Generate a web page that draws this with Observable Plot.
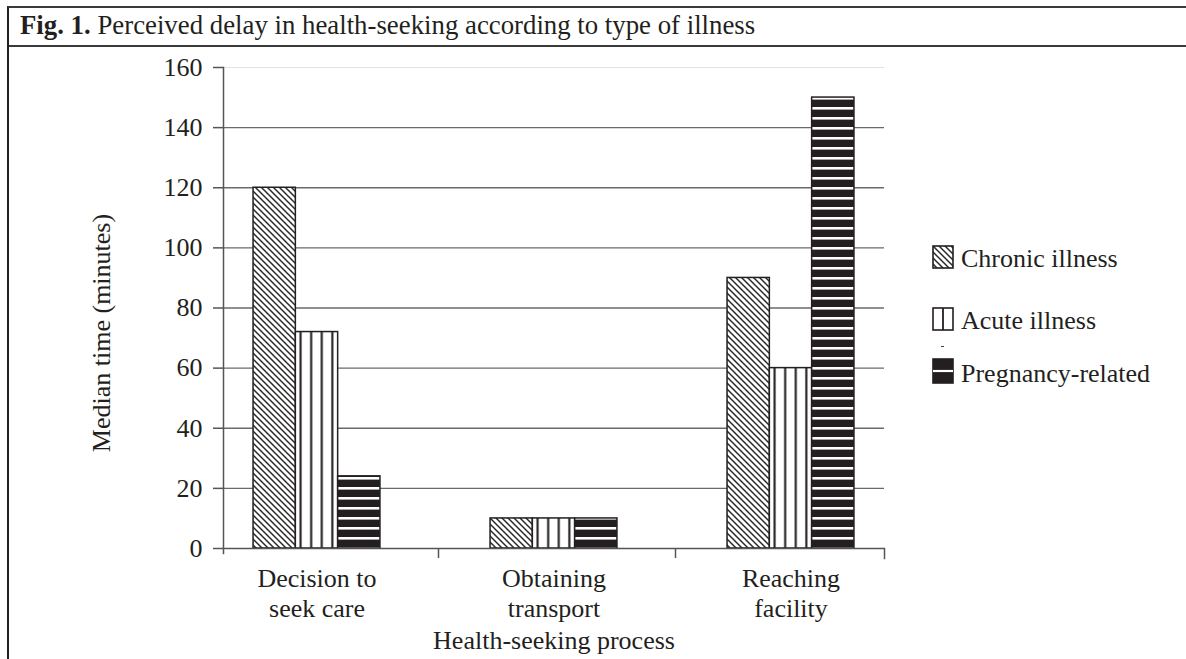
<!DOCTYPE html>
<html>
<head>
<meta charset="utf-8">
<script src="https://cdn.jsdelivr.net/npm/d3@7"></script>
<script src="https://cdn.jsdelivr.net/npm/@observablehq/plot@0.6"></script>
<style>
html,body{margin:0;padding:0;background:#fff;}
#wrap{position:relative;width:1186px;height:659px;overflow:hidden;font-family:"Liberation Serif","Times New Roman",serif;color:#231f20;}
#box{position:absolute;left:7px;top:6px;right:-4px;bottom:-4px;border-top:2px solid #3a3a3a;border-left:2px solid #231f20;}
#title{position:absolute;left:9px;top:8px;right:0;height:37px;border-bottom:2px solid #3a3a3a;}
#title span.t{position:absolute;left:11px;top:4px;font-size:26.8px;line-height:27px;white-space:nowrap;}
#chart{position:absolute;left:0;top:46px;}
.leg{position:absolute;left:932px;font-size:26px;line-height:26px;white-space:nowrap;}
.leg svg{position:absolute;left:0;}
.leg span{position:absolute;left:29px;top:0;}
#dash{position:absolute;left:941px;top:346px;width:3px;height:1px;background:#444;}
</style>
</head>
<body>
<div id="wrap">
  <div id="box"></div>
  <div id="title"><span class="t"><b>Fig. 1.</b> Perceived delay in health-seeking according to type of illness</span></div>
  <div id="chart"></div>
  <div id="legend"></div>
  <div id="dash"></div>
</div>
<script>
// ---- data ----
const categories = ["Decision to\nseek care", "Obtaining\ntransport", "Reaching\nfacility"];
const series = ["Chronic illness", "Acute illness", "Pregnancy-related"];
const chronicValues = [120, 10, 90];
const acuteValues = [72, 10, 60];
const pregnancyValues = [24, 10, 150];
const yTicks = [0, 20, 40, 60, 80, 100, 120, 140, 160];
const xTitle = "Health-seeking process";
const yTitle = "Median time (minutes)";

const valuesBySeries = [chronicValues, acuteValues, pregnancyValues];
const rows = [];
series.forEach((s, i) => categories.forEach((c, j) => rows.push({category: c, series: s, value: valuesBySeries[i][j]})));

// ---- layout / style ----
const ink = "#231f20";
const bandStep = 237, barW = 42.3;
const off = (bandStep - 3 * barW) / 2;

const barMarks = series.map((s, i) => Plot.barY(rows.filter(r => r.series === s), {
  x: "category", y: "value",
  fill: `url(#pat${i})`, stroke: ink, strokeWidth: 1.5,
  insetLeft: off + i * barW, insetRight: bandStep - off - (i + 1) * barW
}));

const chart = Plot.plot({
  width: 1186, height: 613,
  marginTop: 21, marginBottom: 111, marginLeft: 223, marginRight: 302,
  style: {fontFamily: '"Liberation Serif","Times New Roman",serif', fontSize: "26px", color: ink, background: "transparent"},
  x: {domain: categories, range: [198, 198 + 3 * bandStep], padding: 0, axis: null},
  y: {domain: [0, 160], axis: null},
  marks: [
    Plot.ruleY([160], {stroke: "#e2e2e2", strokeWidth: 1.2}),
    Plot.ruleY(yTicks.filter(t => t > 0 && t < 160), {stroke: "#6a6a6a", strokeWidth: 1.3}),
    ...barMarks,
    Plot.ruleY([0], {stroke: "#555", strokeWidth: 1.5}),
    Plot.frame({anchor: "left", stroke: "#555", strokeWidth: 1.5, insetBottom: -5}),
    Plot.frame({anchor: "right", stroke: "#555", strokeWidth: 1.5, insetTop: 481, insetBottom: -10}),
    Plot.axisX(categories.slice(1), {tickSize: 10, tickFormat: () => "", dx: -bandStep / 2 + 3, label: null, stroke: "#555", strokeWidth: 1.5}),
    Plot.axisX({tickSize: 0, tickPadding: 17, fontSize: 26, lineHeight: 1.16, label: null}),
    Plot.axisY(yTicks, {tickSize: 10, tickPadding: 11, fontSize: 26, label: null, stroke: "#555", strokeWidth: 1.5}),
    Plot.text([xTitle], {frameAnchor: "bottom", lineAnchor: "middle", dy: 92, fontSize: 26}),
    Plot.text([yTitle], {frameAnchor: "left", textAnchor: "middle", lineAnchor: "middle", rotate: -90, dx: -122, dy: 25, fontSize: 26})
  ]
});

d3.select(chart).insert("defs", ":first-child").html(`
  <pattern id="pat0" patternUnits="userSpaceOnUse" width="6" height="6">
    <rect width="6" height="6" fill="#fff"/>
    <path d="M0,0L6,6M-1,5L1,7M5,-1L7,1" stroke="#2a2a2a" stroke-width="1.5"/>
  </pattern>
  <pattern id="pat1" patternUnits="objectBoundingBox" patternContentUnits="userSpaceOnUse" x="0" y="0" width="0.25" height="1">
    <rect x="-5" y="-10" width="40" height="4000" fill="#fff"/>
    <rect x="4.2" y="-10" width="2.1" height="4000" fill="${ink}"/>
  </pattern>
  <pattern id="pat2" patternUnits="userSpaceOnUse" width="10" height="10">
    <rect width="10" height="10" fill="${ink}"/>
    <rect y="1" width="10" height="2.6" fill="#fff"/>
  </pattern>
`);
document.getElementById("chart").appendChild(chart);

// ---- legend ----
const legTops = [246, 308, 361];
const swatches = [
  `<svg width="23" height="24" style="top:-1px"><rect x="1" y="1" width="20" height="22" fill="url(#pat0)" stroke="${ink}" stroke-width="1.6"/></svg>`,
  `<svg width="23" height="24" style="top:-1px"><rect x="1" y="1" width="20" height="22" fill="#fff" stroke="${ink}" stroke-width="1.6"/><line x1="11" x2="11" y1="1" y2="23" stroke="${ink}" stroke-width="1.8"/></svg>`,
  `<svg width="23" height="26" style="top:-3px"><rect x="1" y="1" width="20" height="24" fill="${ink}" stroke="${ink}" stroke-width="1.6"/><line x1="1" x2="21" y1="13" y2="13" stroke="#fff" stroke-width="2.2"/></svg>`
];
const legend = document.getElementById("legend");
series.forEach((s, i) => {
  const d = document.createElement("div");
  d.className = "leg";
  d.style.top = legTops[i] + "px";
  d.innerHTML = swatches[i] + `<span>${s}</span>`;
  legend.appendChild(d);
});
</script>
</body>
</html>
